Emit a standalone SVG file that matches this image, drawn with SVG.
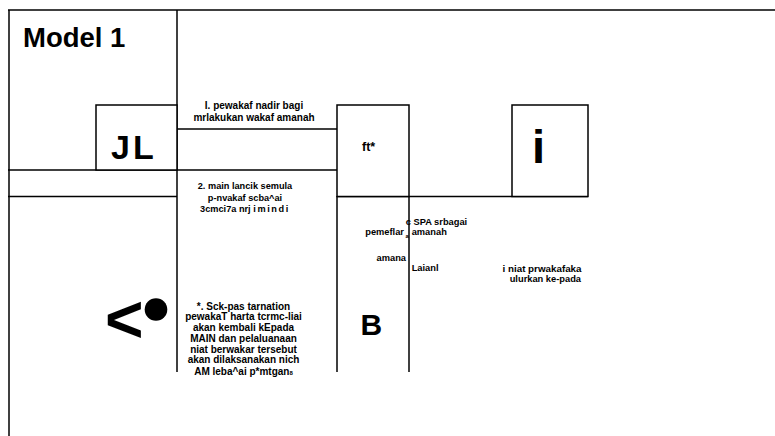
<svg xmlns="http://www.w3.org/2000/svg" width="775" height="436" viewBox="0 0 775 436">
<style>
.ln{stroke:#000;stroke-width:1.5;fill:none}
.bx{stroke:#000;stroke-width:1.5;fill:#fff}
text{font-family:"Liberation Sans",Arial,sans-serif;font-weight:bold;fill:#000}
.t1{font-size:10px;text-anchor:middle}
.t2{font-size:9.2px;text-anchor:middle}
.t3{font-size:10px;text-anchor:middle}
.tr{font-size:9.3px}
</style>
<rect width="775" height="436" fill="#fff"/>
<g id="connectors">
<line class="ln" x1="8" y1="10" x2="775" y2="10"/>
<line class="ln" x1="9" y1="10" x2="9" y2="436"/>
<line class="ln" x1="177" y1="10" x2="177" y2="372"/>
<line class="ln" x1="177" y1="129" x2="337" y2="129"/>
<line class="ln" x1="8" y1="170" x2="337" y2="170"/>
<line class="ln" x1="8" y1="196.5" x2="177" y2="196.5"/>
<line class="ln" x1="337" y1="196.5" x2="588" y2="196.5"/>
<line class="ln" x1="337" y1="196" x2="337" y2="372"/>
<line class="ln" x1="409" y1="196" x2="409" y2="372"/>
</g>
<g id="title">
<text x="23" y="46.5" style="font-size:27.5px">Model 1</text>
</g>
<g id="node-jl">
<rect class="bx" x="96" y="105" width="81" height="65"/>
<text x="111" y="159.3" style="font-size:34px;letter-spacing:3px">JL</text>
</g>
<g id="node-ft">
<rect class="bx" x="337" y="105" width="72" height="91.5"/>
<text x="362" y="151" style="font-size:12.5px">ft*</text>
</g>
<g id="node-i">
<rect class="bx" x="512" y="105" width="76" height="91.5"/>
<text x="538.5" y="163.3" style="font-size:47px;text-anchor:middle">i</text>
</g>
<g id="node-b">
<text x="360.5" y="335" style="font-size:30px">B</text>
</g>
<g id="node-symbol">
<text x="105" y="342" style="font-size:66px">&lt;</text>
<circle cx="156" cy="309.5" r="11.3" fill="#000"/>
</g>
<g id="label-1">
<text class="t1" x="254" y="108.5">I. pewakaf nadir bagi</text>
<text class="t1" x="254" y="120.5">mrlakukan wakaf amanah</text>
</g>
<g id="label-2">
<text class="t2" x="245" y="189">2. main lancik semula</text>
<text class="t2" x="245" y="200.5">p-nvakaf  scba^ai</text>
<text class="t2" x="245" y="212">3cmci7a nrj <tspan style="letter-spacing:1.6px">imindi</tspan></text>
</g>
<g id="label-3">
<text class="t3" x="243.5" y="309.5">*. Sck-pas tarnation</text>
<text class="t3" x="243.5" y="320.3">pewakaT harta tcrmc-liai</text>
<text class="t3" x="243.5" y="331">akan kembali kEpada</text>
<text class="t3" x="243.5" y="341.8">MAIN dan pelaluanaan</text>
<text class="t3" x="243.5" y="352.5">niat berwakar tersebut</text>
<text class="t3" x="243.5" y="363.3">akan dilaksanakan nich</text>
<text class="t3" x="243.5" y="374.5">AM leba^ai  p*mtgan<tspan style="font-size:6px">8</tspan></text>
</g>
<g id="label-4">
<text class="tr" x="405.7" y="225.3">c SPA srbagai</text>
<text class="tr" x="404" y="234.7" style="text-anchor:end">pemeflar</text>
<text x="405.5" y="237.5" style="font-size:6px">a</text>
<text class="tr" x="411.7" y="234.7">amanah</text>
<text class="tr" x="406" y="261.3" style="text-anchor:end">amana</text>
<text class="tr" x="411.7" y="271.3">Laianl</text>
</g>
<g id="label-5">
<text class="tr" x="581.5" y="271.7" style="text-anchor:end;font-size:9.8px">i niat prwakafaka</text>
<text class="tr" x="581" y="281.7" style="text-anchor:end">ulurkan ke-pada</text>
</g>
</svg>
